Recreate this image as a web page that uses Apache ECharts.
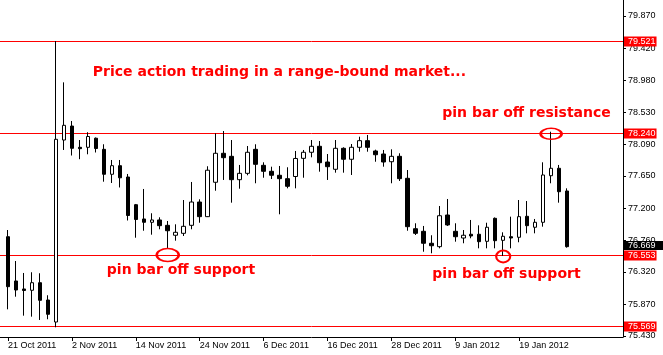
<!DOCTYPE html>
<html><head><meta charset="utf-8">
<script src="https://cdn.jsdelivr.net/npm/echarts@6/dist/echarts.min.js"></script>
<style>html,body{margin:0;padding:0;background:#fff;overflow:hidden}#c{width:663px;height:355px}</style>
</head><body><div id="c"></div>
<script>
// ---- data (USD/JPY daily) ----
const dates = [
 '21 Oct 2011','24 Oct 2011','25 Oct 2011','26 Oct 2011','27 Oct 2011','28 Oct 2011','31 Oct 2011',
 '1 Nov 2011','2 Nov 2011','3 Nov 2011','4 Nov 2011','7 Nov 2011','8 Nov 2011','9 Nov 2011','10 Nov 2011','11 Nov 2011',
 '14 Nov 2011','15 Nov 2011','16 Nov 2011','17 Nov 2011','18 Nov 2011','21 Nov 2011','22 Nov 2011','23 Nov 2011',
 '24 Nov 2011','25 Nov 2011','28 Nov 2011','29 Nov 2011','30 Nov 2011',
 '1 Dec 2011','2 Dec 2011','5 Dec 2011','6 Dec 2011','7 Dec 2011','8 Dec 2011','9 Dec 2011','12 Dec 2011','13 Dec 2011',
 '14 Dec 2011','15 Dec 2011','16 Dec 2011','19 Dec 2011','20 Dec 2011','21 Dec 2011','22 Dec 2011','23 Dec 2011',
 '26 Dec 2011','27 Dec 2011','28 Dec 2011','29 Dec 2011','30 Dec 2011',
 '2 Jan 2012','3 Jan 2012','4 Jan 2012','5 Jan 2012','6 Jan 2012','9 Jan 2012','10 Jan 2012','11 Jan 2012','12 Jan 2012',
 '13 Jan 2012','16 Jan 2012','17 Jan 2012','18 Jan 2012','19 Jan 2012','20 Jan 2012','23 Jan 2012','24 Jan 2012',
 '25 Jan 2012','26 Jan 2012','27 Jan 2012'
];
const opens = [76.807,76.193,76.082,76.064,76.169,75.929,75.624,78.148,78.342,78.047,78.047,78.173,78.019,77.673,77.792,77.635,
 77.251,77.053,77.007,77.039,76.965,76.827,76.854,76.965,77.288,77.085,77.562,77.964,77.922,77.598,77.686,78.019,77.797,
 77.714,77.659,77.612,77.642,77.894,77.978,78.061,77.843,77.742,78.033,77.881,78.047,78.139,77.996,77.954,77.847,77.922,
 77.617,76.918,76.882,76.716,76.669,77.108,76.882,76.789,76.841,76.841,76.743,77.062,76.757,76.807,76.799,77.090,76.938,
 77.007,77.653,77.756,77.441];
const highs = [76.900,76.470,76.304,76.314,76.300,75.995,79.521,78.948,78.412,78.148,78.256,78.183,78.089,77.871,77.871,77.677,
 77.261,77.469,77.132,77.076,77.025,76.979,77.316,77.566,77.326,77.784,78.241,78.273,78.148,77.802,78.065,78.089,77.839,
 77.778,77.788,77.770,77.996,78.010,78.148,78.134,77.954,78.148,78.047,78.093,78.194,78.218,78.014,78.010,78.019,77.964,
 77.732,76.993,76.956,76.827,77.233,77.330,76.993,76.900,77.039,76.965,77.001,77.074,76.868,77.085,77.316,77.302,77.053,
 77.839,78.263,77.802,77.478];
const lows = [75.800,75.975,75.712,75.698,75.652,75.662,75.551,78.010,77.933,77.882,77.950,77.975,77.570,77.552,77.490,77.032,
 76.793,76.890,76.835,76.910,76.650,76.752,76.817,76.910,77.001,77.080,77.445,77.594,77.279,77.473,77.659,77.548,77.625,
 77.607,77.118,77.478,77.478,77.625,77.908,77.709,77.594,77.695,77.695,77.663,77.986,77.986,77.847,77.778,77.548,77.580,
 76.890,76.831,76.599,76.577,76.646,76.956,76.738,76.716,76.785,76.646,76.646,76.646,76.540,76.646,76.730,76.854,76.854,
 76.946,77.548,77.279,76.655];
const closes = [76.114,76.068,76.061,76.169,75.925,75.731,78.158,78.352,78.033,78.028,78.197,78.030,77.673,77.792,77.624,77.101,
 77.046,77.007,77.039,76.960,76.890,76.868,76.951,77.288,77.085,77.729,77.964,77.903,77.598,77.686,77.978,77.811,77.714,
 77.659,77.612,77.506,77.892,77.978,78.061,77.833,77.778,78.033,77.881,78.047,78.139,78.047,77.944,77.843,77.922,77.612,
 76.946,76.854,76.716,76.682,77.098,76.970,76.807,76.827,76.817,76.738,76.938,76.752,76.813,76.789,77.085,76.960,77.007,
 77.663,77.756,77.431,76.669];
const priceTicks = [75.430,75.870,76.320,76.760,77.200,77.650,78.090,78.530,78.980,79.420,79.870];
const levels = [79.521,78.240,76.553,75.569];
const lastPrice = 76.669;
const labelEvery = 8;
const padBefore = 1, padAfter = 7;
// annotations: text, anchor bar, price
const noteTexts = ['Price action trading in a range-bound market...','pin bar off resistance','pin bar off support','pin bar off support'];
const noteBars = [11, 54, 12, 53];
const notePrices = [79.105, 78.523, 76.345, 76.290];
// circles around pin bars: bar, price
const ringBars = [20, 62, 68];
const ringPrices = [76.553, 76.533, 78.234];
const ringSizes = [[22,13],[14,12],[21,11]];

// ---- build ----
const cats = [];
for (let i = 0; i < padBefore; i++) cats.push('pad_b' + i);
dates.forEach(d => cats.push(d));
for (let i = 0; i < padAfter; i++) cats.push('pad_a' + i);
const candles = [];
for (let i = 0; i < padBefore; i++) candles.push('-');
for (let i = 0; i < dates.length; i++) candles.push([opens[i], closes[i], lows[i], highs[i]]);
for (let i = 0; i < padAfter; i++) candles.push('-');

const isLabel = (idx) => idx >= padBefore && idx < padBefore + dates.length && (idx - padBefore) % labelEvery === 0;
const axisFont = { fontFamily: 'Liberation Sans', fontSize: 9, color: '#000' };
const ellipse = 'path://M0,50 A50,50 0 1,1 100,50 A50,50 0 1,1 0,50 Z';
const noteOffsets = [[-3, 1], [3, 0], [3, 0], [1, 0]];

const markPoints = [];
noteTexts.forEach((t, i) => markPoints.push({
  coord: [dates[noteBars[i]], notePrices[i]], symbol: 'circle', symbolSize: 0,
  label: { show: true, position: 'right', distance: 0, offset: noteOffsets[i], formatter: t, color: '#ff0000',
           fontFamily: 'DejaVu Sans', fontWeight: 'bold', fontSize: 14 }
}));
ringBars.forEach((b, i) => markPoints.push({
  coord: [dates[b], ringPrices[i]], symbol: ellipse, symbolSize: ringSizes[i], symbolKeepAspect: false,
  itemStyle: { color: 'rgba(0,0,0,0)', borderColor: '#ff0000', borderWidth: 2 },
  label: { show: false }
}));

// horizontal price levels drawn through the library's y scale, snapped to crisp pixels
function levelRenderer(kind) {
  return function (params, api) {
    const cs = params.coordSys;
    const v = api.value(1);
    const y = Math.round(api.coord([0, v])[1]) + 0.5;
    const children = [];
    if (kind === 'level') {
      children.push({ type: 'line', shape: { x1: cs.x, y1: y, x2: cs.x + cs.width, y2: y },
                      style: { stroke: '#ff0000', lineWidth: 1 } });
    }
    children.push({ type: 'text', z2: 10, style: {
      text: v.toFixed(3), x: cs.x + cs.width + (kind === 'level' ? 1 : 0), y: kind === 'level' ? y : y - 2,
      align: 'left', verticalAlign: 'middle', fill: '#fff',
      backgroundColor: kind === 'level' ? '#ff0000' : '#000',
      padding: kind === 'level' ? [1, 1, 0, 4] : [0, 8, 0, 5],
      font: '9px "Liberation Sans"' } });
    return { type: 'group', children };
  };
}

const chart = echarts.init(document.getElementById('c'), null, { renderer: 'canvas' });
chart.setOption({
  animation: false,
  backgroundColor: '#fff',
  grid: { left: -1, right: 40, top: 0, height: 337, containLabel: false },
  xAxis: {
    type: 'category', data: cats, boundaryGap: false,
    axisLine: { show: true, lineStyle: { color: '#000', width: 1 } },
    axisTick: { show: true, length: 4, interval: (i) => isLabel(i), lineStyle: { color: '#000' } },
    axisLabel: { show: true, interval: (i) => isLabel(i), align: 'left', margin: 4, ...axisFont },
    splitLine: { show: false }
  },
  yAxis: {
    type: 'value', position: 'right', min: 75.416, max: 80.09, scale: true,
    axisLine: { show: true, lineStyle: { color: '#000', width: 1 } },
    axisTick: { show: true, length: 3, customValues: priceTicks, lineStyle: { color: '#000' } },
    axisLabel: { show: true, customValues: priceTicks, margin: 5, formatter: v => v.toFixed(3), ...axisFont },
    splitLine: { show: false }
  },
  series: [
    { type: 'custom', z: 2, silent: true, clip: false, renderItem: levelRenderer('level'),
      data: levels.map(v => [0, v]) },
    { type: 'candlestick', data: candles, barWidth: 4, large: false, z: 3,
      itemStyle: { color: '#fff', color0: '#000', borderColor: '#000', borderColor0: '#000', borderWidth: 1 },
      markPoint: { silent: true, animation: false, data: markPoints } },
    { type: 'custom', z: 4, silent: true, clip: false, renderItem: levelRenderer('last'),
      data: [[0, lastPrice]] }
  ]
});
</script>
</body></html>
